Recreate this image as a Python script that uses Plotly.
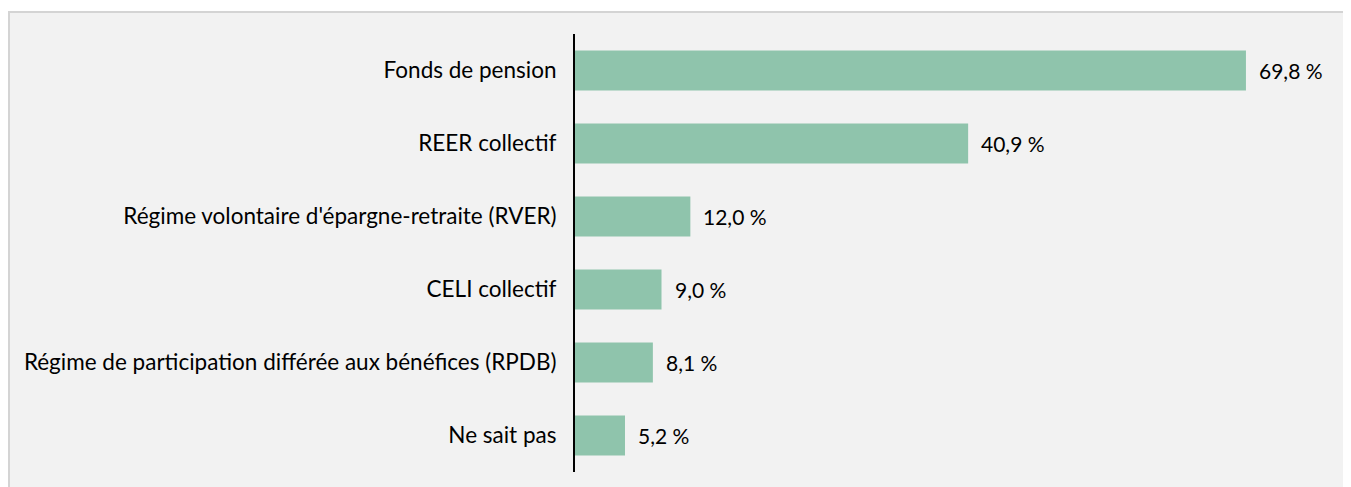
import plotly.graph_objects as go

categories = [
    "Fonds de pension",
    "REER collectif",
    "Régime volontaire d'épargne-retraite (RVER)",
    "CELI collectif",
    "Régime de participation différée aux bénéfices (RPDB)",
    "Ne sait pas",
]
values = [69.8, 40.9, 12.0, 9.0, 8.1, 5.2]
labels = [f"{v:.1f}".replace(".", ",") + " %" for v in values]

W, H = 1351, 487
L, R = 567, 1336
T, B = 26, 464

def px_x(px):
    return (px - L) / (R - L)

def px_y(py):
    return (B - py) / (B - T)

fig = go.Figure(go.Bar(
    y=categories, x=values, orientation="h",
    marker=dict(color="#8fc4ac", line=dict(width=0)),
    hoverinfo="skip",
))

for c, v, t in zip(categories, values, labels):
    fig.add_annotation(x=v, y=c, text=t, showarrow=False, xanchor="left",
                       xshift=11, font=dict(size=21, color="#000000"))

fig.add_shape(type="rect", xref="paper", yref="paper",
              x0=px_x(1), x1=px_x(1342), y0=px_y(520), y1=px_y(4),
              fillcolor="#f2f2f2", line=dict(color="#d4d4d4", width=2), layer="below")

fig.update_layout(
    width=W, height=H,
    margin=dict(l=L, r=W - R, t=T, b=H - B, pad=0),
    paper_bgcolor="white", plot_bgcolor="rgba(0,0,0,0)",
    bargap=0.45, showlegend=False,
    font=dict(family="Lato, Noto Sans, sans-serif", size=21, color="#000000"),
    xaxis=dict(range=[0, 80], visible=False, fixedrange=True),
    yaxis=dict(autorange="reversed", showline=True, linecolor="#000000", linewidth=2,
               showgrid=False, zeroline=False, ticks="", ticklabelstandoff=12,
               tickfont=dict(size=22.5, color="#000000")),
)

fig.write_html("out.html", post_script="document.body.style.overflow='hidden';")
